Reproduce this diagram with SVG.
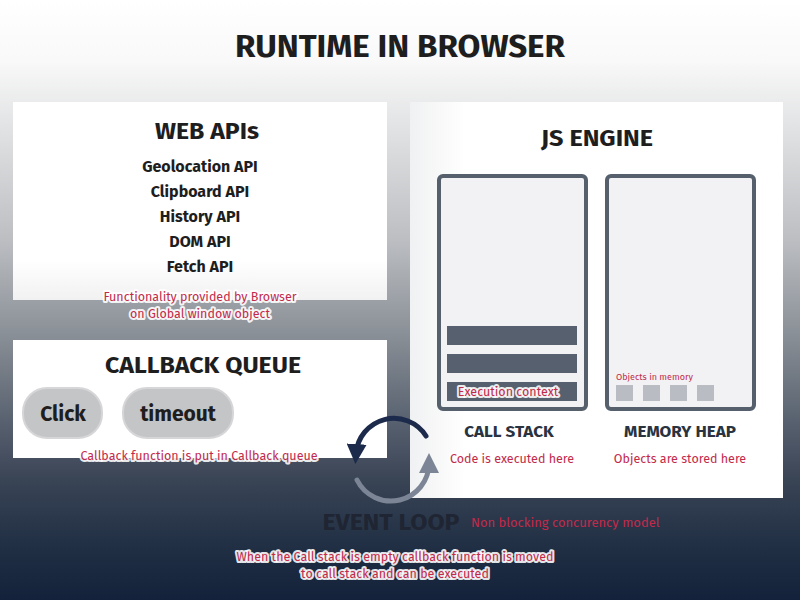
<svg xmlns="http://www.w3.org/2000/svg" width="800" height="600" viewBox="0 0 800 600">
<defs>
<linearGradient id="bg" x1="0" y1="0" x2="0" y2="1">
<stop offset="0" stop-color="#ffffff"/>
<stop offset="0.1" stop-color="#f9f9f9"/>
<stop offset="0.2" stop-color="#e4e5e6"/>
<stop offset="0.4" stop-color="#bcbec2"/>
<stop offset="0.55" stop-color="#8c9299"/>
<stop offset="0.7" stop-color="#596270"/>
<stop offset="0.8" stop-color="#394455"/>
<stop offset="0.9" stop-color="#233146"/>
<stop offset="1" stop-color="#13213a"/>
</linearGradient>
<linearGradient id="boxfade" x1="0" y1="0" x2="0" y2="1">
<stop offset="0" stop-color="#ffffff"/>
<stop offset="0.8" stop-color="#ffffff"/>
<stop offset="1" stop-color="#f1f1f2"/>
</linearGradient>
<linearGradient id="jsfade" x1="0" y1="0" x2="1" y2="0">
<stop offset="0" stop-color="#f0f1f2"/>
<stop offset="0.15" stop-color="#ffffff"/>
<stop offset="1" stop-color="#ffffff"/>
</linearGradient>
<marker id="headDark" viewBox="0 0 10 10" refX="5" refY="5" markerWidth="4" markerHeight="4" orient="auto" markerUnits="strokeWidth">
<path d="M0,0 L10,5 L0,10 z" fill="#1c2a4c"/>
</marker>
<marker id="headLight" viewBox="0 0 10 10" refX="5" refY="5" markerWidth="4" markerHeight="4" orient="auto" markerUnits="strokeWidth">
<path d="M0,0 L10,5 L0,10 z" fill="#7c8595"/>
</marker>
</defs>
<style>
text{font-family:"Fira Sans","Roboto","Noto Sans","DejaVu Sans",sans-serif;text-anchor:middle}
.h{font-weight:700;fill:#1e1e1e}
.h1{font-size:30px}
.h2{font-size:24px}
.item{font-size:16px;font-weight:700;fill:#1e1e1e}
.sub{font-size:17px;font-weight:700;fill:#2a3340}
.note{font-size:12.5px;fill:#c32a4a;stroke:#ffffff;stroke-opacity:0.9;stroke-width:4px;stroke-linejoin:round;paint-order:stroke}
.small{font-size:9px;fill:#c32a4a}
.panel{fill:url(#boxfade)}
.frame{fill:#f2f2f4;stroke:#56606c;stroke-width:4}
.bar{fill:#56606e}
.obj{fill:#b9bdc3}
.pill{fill:#c4c5c7;stroke:#d6d6d8;stroke-width:2}
</style>
<rect width="800" height="600" fill="url(#bg)"/>
<text class="h h1" x="400" y="57" textLength="330" lengthAdjust="spacingAndGlyphs">RUNTIME IN BROWSER</text>

<g id="web-apis">
<rect class="panel" x="13" y="102" width="374" height="198"/>
<text class="h h2" x="207" y="139" textLength="104" lengthAdjust="spacingAndGlyphs">WEB APIs</text>
<text class="item" x="200" y="172">Geolocation API</text>
<text class="item" x="200" y="197">Clipboard API</text>
<text class="item" x="200" y="222">History API</text>
<text class="item" x="200" y="247">DOM API</text>
<text class="item" x="200" y="272">Fetch API</text>
<text class="note" x="200" y="301">Functionality provided by Browser</text>
<text class="note" x="200" y="318">on Global window object</text>
</g>

<g id="callback-queue">
<rect x="13" y="340" width="374" height="118" fill="#ffffff"/>
<text class="h h2" x="203" y="373" textLength="196" lengthAdjust="spacingAndGlyphs">CALLBACK QUEUE</text>
<g id="click">
<rect class="pill" x="23" y="388" width="79" height="50" rx="24"/>
<text class="h" x="63" y="421" font-size="21">Click</text>
</g>
<g id="timeout">
<rect class="pill" x="123" y="388" width="110" height="50" rx="24"/>
<text class="h" x="178" y="421" font-size="21">timeout</text>
</g>
<text class="note" x="199" y="460">Callback function is put in Callback queue</text>
</g>

<g id="js-engine">
<rect x="410" y="102" width="373" height="396" fill="url(#jsfade)"/>
<text class="h h2" x="597" y="146" textLength="112" lengthAdjust="spacingAndGlyphs">JS ENGINE</text>
<g id="call-stack">
<rect class="frame" x="439" y="176" width="147" height="233" rx="4"/>
<rect class="bar" x="447" y="326" width="130" height="19"/>
<rect class="bar" x="447" y="354" width="130" height="19"/>
<rect class="bar" x="447" y="382" width="130" height="19"/>
<text class="note" x="508" y="396" font-size="12">Execution context</text>
<text class="sub" x="509" y="437">CALL STACK</text>
<text class="note" x="512" y="463">Code is executed here</text>
</g>
<g id="memory-heap">
<rect class="frame" x="607" y="176" width="147" height="233" rx="4"/>
<text class="small" x="616" y="380" style="text-anchor:start">Objects in memory</text>
<rect class="obj" x="616" y="385" width="17" height="16"/>
<rect class="obj" x="643" y="385" width="17" height="16"/>
<rect class="obj" x="670" y="385" width="17" height="16"/>
<rect class="obj" x="697" y="385" width="17" height="16"/>
<text class="sub" x="680" y="437">MEMORY HEAP</text>
<text class="note" x="680" y="463">Objects are stored here</text>
</g>
</g>

<g id="connectors">
<path d="M426,436 A38,38 0 0 0 356,454" fill="none" stroke="#1c2a4c" stroke-width="5" stroke-linecap="round" marker-end="url(#headDark)"/>
<path d="M357,480 A38,38 0 0 0 429,463" fill="none" stroke="#7c8595" stroke-width="5" stroke-linecap="round" marker-end="url(#headLight)"/>
</g>

<g id="event-loop">
<text class="h" x="391" y="530" font-size="24" textLength="137" lengthAdjust="spacingAndGlyphs" style="fill:#1f2532">EVENT LOOP</text>
<text x="471" y="527" font-size="13" fill="#c32a4a" style="text-anchor:start">Non blocking concurency model</text>
<text class="note" x="395" y="561">When the Call stack is empty callback function is moved</text>
<text class="note" x="395" y="578">to call stack and can be executed</text>
</g>
</svg>
